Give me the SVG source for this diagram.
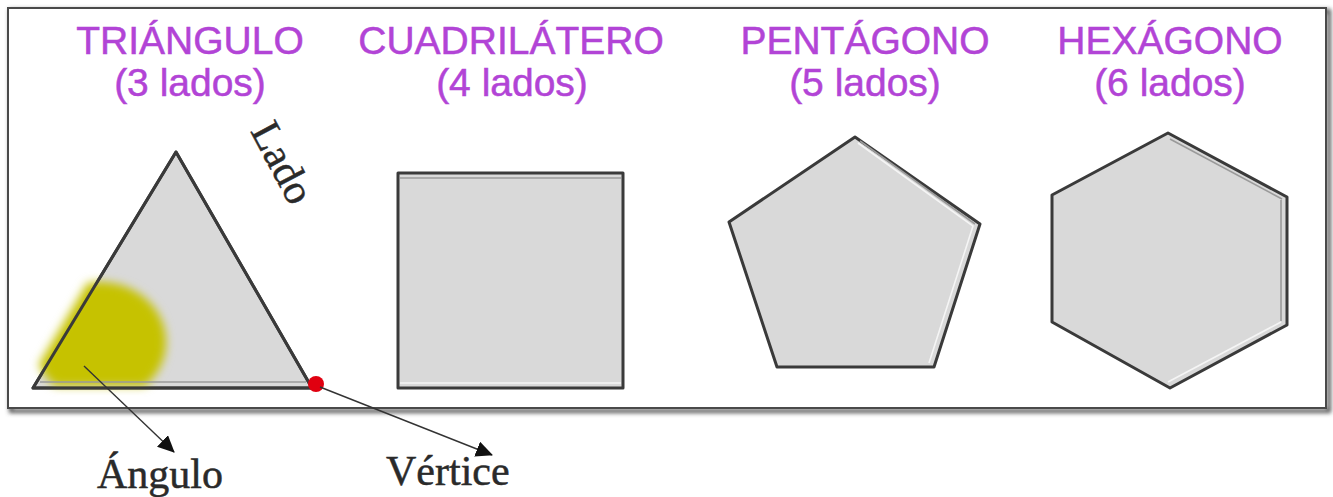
<svg xmlns="http://www.w3.org/2000/svg" width="1333" height="497" viewBox="0 0 1333 497">
  <style>
    .title { font-family: "Liberation Sans", Arial, sans-serif; font-size: 39px; fill: #b244d6; stroke: #b244d6; stroke-width: 0.5; text-anchor: middle; }
    .label { font-family: "Liberation Serif", "Times New Roman", serif; font-size: 42px; fill: #2a2a2a; stroke: #2a2a2a; stroke-width: 0.5; }
    .shape { fill: #d9d9d9; stroke: #3a3a3a; stroke-width: 3; stroke-linejoin: round; }
    .bevel { fill: none; stroke: #f5f5f5; stroke-width: 1.6; }
    .bevel2 { fill: none; stroke: #9a9a9a; stroke-width: 1.6; }
    .conn { stroke: #333; stroke-width: 1.4; fill: none; }
  </style>
  <defs>
    <marker id="arrow" markerUnits="userSpaceOnUse" markerWidth="18" markerHeight="16" refX="16" refY="8" orient="auto">
      <path d="M0,0 L17,8 L0,16 Z" fill="#111"/>
    </marker>
    <filter id="shadow" x="-5%" y="-5%" width="110%" height="115%">
      <feGaussianBlur stdDeviation="2"/>
    </filter>
    <filter id="blur" x="-30%" y="-30%" width="160%" height="160%">
      <feGaussianBlur stdDeviation="5"/>
    </filter>
    <clipPath id="triclip">
      <polygon points="26,386 168,148 307,386"/>
    </clipPath>
  </defs>

  <rect width="1333" height="497" fill="#ffffff"/>

  <!-- frame -->
  <g id="frame">
    <rect x="11" y="11" width="1318" height="400" fill="none" stroke="#555" stroke-width="4" filter="url(#shadow)"/>
    <rect x="8" y="8" width="1318" height="400" fill="#ffffff" stroke="#4a4a4a" stroke-width="2"/>
  </g>

  <!-- titles -->
  <g id="title-triangulo">
    <text class="title" x="190" y="54">TRIÁNGULO</text>
    <text class="title" x="190" y="96">(3 lados)</text>
  </g>
  <g id="title-cuadrilatero">
    <text class="title" x="511" y="54">CUADRILÁTERO</text>
    <text class="title" x="512" y="96">(4 lados)</text>
  </g>
  <g id="title-pentagono">
    <text class="title" x="865" y="54">PENTÁGONO</text>
    <text class="title" x="865" y="96">(5 lados)</text>
  </g>
  <g id="title-hexagono">
    <text class="title" x="1170" y="54">HEXÁGONO</text>
    <text class="title" x="1170" y="96">(6 lados)</text>
  </g>

  <!-- triangle -->
  <g id="triangulo">
    <polygon class="shape" points="33,388 176,152 312,388"/>
    <g filter="url(#blur)">
      <ellipse cx="100" cy="342" rx="66" ry="60" fill="#c6c200" clip-path="url(#triclip)"/>
    </g>
    <line x1="40" y1="382" x2="306" y2="382" class="bevel2"/>
    <polygon points="33,388 176,152 312,388" fill="none" stroke="#3a3a3a" stroke-width="3" stroke-linejoin="round"/>
    <circle cx="316" cy="384" r="8" fill="#e00010"/>
    <text class="label" font-size="33" stroke-width="0.3" transform="translate(250,131) rotate(62)">Lado</text>
  </g>

  <!-- square -->
  <g id="cuadrilatero">
    <rect class="shape" x="398" y="173" width="225" height="215"/>
    <line x1="400" y1="178" x2="621" y2="178" class="bevel2" stroke-width="3"/>
    <line x1="400" y1="383" x2="621" y2="383" class="bevel"/>
  </g>

  <!-- pentagon -->
  <g id="pentagono">
    <polygon class="shape" points="855,137 980,224 934,367 777,367 729,222"/>
    <polyline class="bevel" points="858,143 973,226 929,363"/>
    <polyline class="bevel2" points="860,141 975,224"/>
  </g>

  <!-- hexagon -->
  <g id="hexagono">
    <polygon class="shape" points="1168,133 1287,197 1287,325 1170,388 1052,322 1052,195"/>
    <polyline class="bevel2" points="1281,200 1281,321"/>
    <polyline class="bevel" points="1281,322 1168,382"/>
    <polyline class="bevel2" points="1170,139 1282,199"/>
  </g>

  <!-- connectors -->
  <g id="connectors">
    <line class="conn" x1="84" y1="366" x2="174" y2="452" marker-end="url(#arrow)"/>
    <line class="conn" x1="320" y1="387" x2="492" y2="455" marker-end="url(#arrow)"/>
  </g>

  <!-- labels -->
  <g id="label-angulo">
    <text class="label" x="97" y="488">Ángulo</text>
  </g>
  <g id="label-vertice">
    <text class="label" x="386" y="485">Vértice</text>
  </g>
</svg>
